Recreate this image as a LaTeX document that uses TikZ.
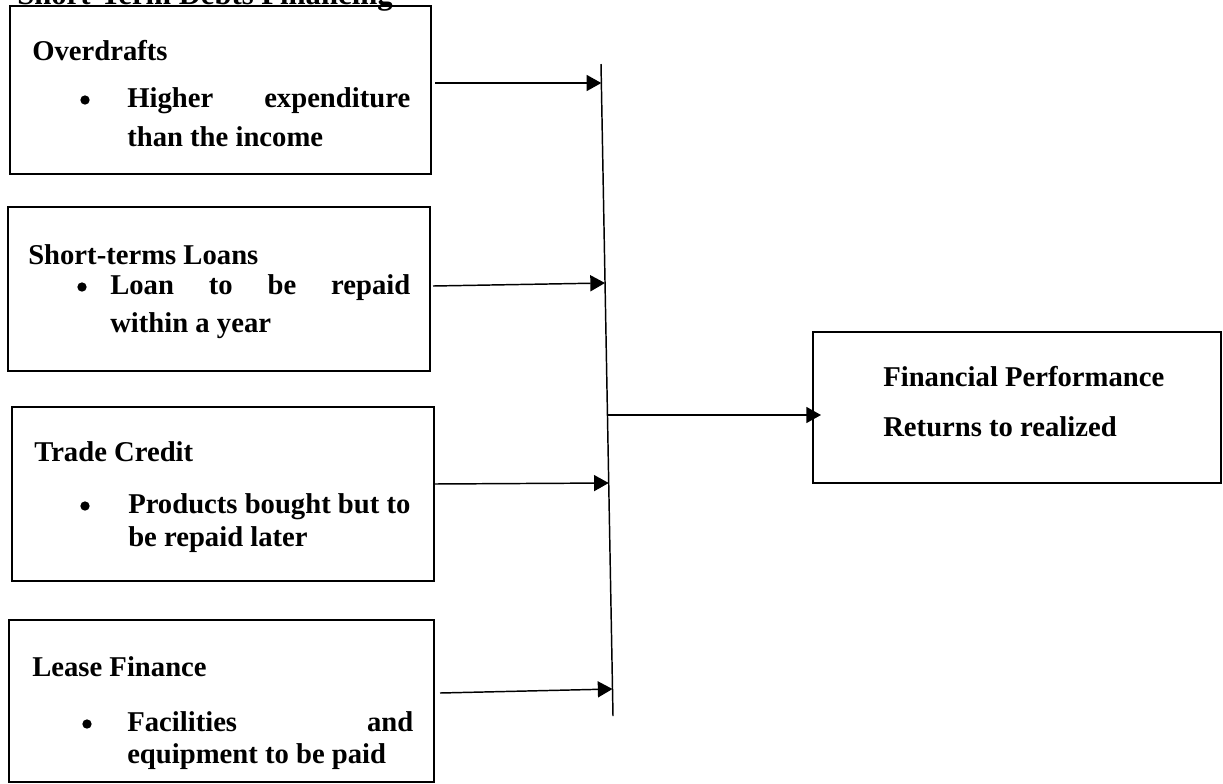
\documentclass[tikz,border=0pt]{standalone}
\usepackage{fontspec}
\setmainfont{Liberation Serif}
\usetikzlibrary{arrows.meta,fit}
\begin{document}
\begin{tikzpicture}[x=0.75pt,y=-0.75pt,
  box/.style={draw=black,line width=1.5pt,inner sep=0pt},
  txt/.style={anchor=base west,inner sep=0pt,font=\fontsize{21.5}{24}\selectfont\bfseries},
  dot/.style={circle,fill=black,inner sep=0pt,minimum size=7pt},
  conn/.style={line width=1.1pt,-{Triangle[length=11pt,width=12pt]}},
  barline/.style={line width=1.1pt}]
\useasboundingbox (0,0) rectangle (1223,783);
% title (cut off at top)
\node[txt,font=\fontsize{23}{26}\selectfont\bfseries] (title) at (17,4) {Short-Term Debts Financing};
% boxes
\node[box,fit={(10,6) (431,174)}] (b1) {};
\node[box,fit={(8,207) (430,371)}] (b2) {};
\node[box,fit={(12,407) (434,581)}] (b3) {};
\node[box,fit={(9,620) (434,782)}] (b4) {};
\node[box,fit={(813,332) (1221,483)}] (fp) {};
% box 1 text
\node[txt] (t1a) at (32,60) {Overdrafts};
\node[dot] (t1b) at (85,100) {};
\node[txt] (t1c) at (127,107) {\makebox[212.25pt][s]{Higher expenditure}};
\node[txt] (t1d) at (127,146) {than the income};
% box 2 text
\node[txt] (t2a) at (28,264) {Short-terms Loans};
\node[dot] (t2b) at (82,287) {};
\node[txt] (t2c) at (110,294) {\makebox[225pt][s]{Loan to be repaid}};
\node[txt] (t2d) at (110,332) {within a year};
% box 3 text
\node[txt] (t3a) at (34,461) {Trade Credit};
\node[dot] (t3b) at (85,506) {};
\node[txt] (t3c) at (128,513) {Products bought but to};
\node[txt] (t3d) at (128,546) {be repaid later};
% box 4 text
\node[txt] (t4a) at (32,676) {Lease Finance};
\node[dot] (t4b) at (87,724) {};
\node[txt] (t4c) at (127,731) {\makebox[214.5pt][s]{Facilities and}};
\node[txt] (t4d) at (127,763) {equipment to be paid};
% right box text
\node[txt] (fpa) at (883,386) {Financial Performance};
\node[txt] (fpb) at (883,436) {Returns to realized};
% collecting bar
\coordinate (bt) at (601,64);
\coordinate (bb) at (613,716);
\draw[barline] (bt) -- (bb);
% connector ends
\coordinate (s1) at (435,83);  \coordinate (e1) at (601.3,83);
\coordinate (s2) at (433,286); \coordinate (e2) at (605,283);
\coordinate (s3) at (433,484); \coordinate (e3) at (608.7,483);
\coordinate (s4) at (440,693); \coordinate (e4) at (612.5,689);
\coordinate (s5) at (607.5,415); \coordinate (e5) at (821,415);
\draw[conn] (s1) -- (e1);
\draw[conn] (s2) -- (e2);
\draw[conn] (s3) -- (e3);
\draw[conn] (s4) -- (e4);
\draw[conn] (s5) -- (e5);
\end{tikzpicture}
\end{document}
